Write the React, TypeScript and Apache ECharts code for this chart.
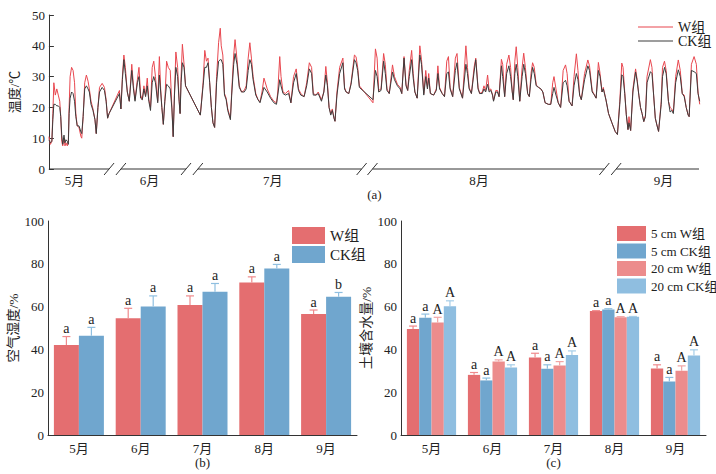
import { useEffect, useRef } from 'react';
import * as echarts from 'echarts';

// [time step, W组 temperature, CK组 temperature]
type TempPoint = [number, number, number];

const tempMay: TempPoint[] = [
  [0, 10.5, 9.5], [1.5, 8, 8.5], [3, 9, 9], [4, 18, 16], [5, 28, 21], [6.5, 24, 21], [8, 26, 20.5],
  [9.5, 24, 20.5], [11, 22, 20], [12, 17, 17], [13, 9, 11], [14, 7.5, 8], [15.3, 10, 11], [16.3, 7.5, 8.5],
  [17.3, 8.5, 9.5], [18.7, 7.5, 9], [19.7, 9, 8], [20.5, 20, 18], [21.5, 30, 23], [23, 33, 25],
  [24.5, 32, 24.5], [26, 28, 22], [27.3, 18, 17], [28.7, 14, 14], [30.5, 13.5, 14], [31.5, 12, 13],
  [32.5, 10.5, 12], [33.3, 10, 11.5], [34.7, 17, 17], [36.3, 28, 26], [38, 30.5, 27], [39.7, 28.5, 26],
  [41, 26, 25], [42.7, 22, 21], [44.7, 19.5, 19], [46.7, 16, 16], [48, 11.5, 11.5], [49.7, 20, 20],
  [51.3, 26.5, 25], [54, 27.8, 26.5], [56.3, 26.5, 25.5], [58, 22.5, 22], [59.5, 16.5, 16.5], [61, 18, 18],
];

const tempJun: TempPoint[] = [
  [71.5, 25.5, 24.5], [73, 19.5, 19.5], [74.5, 30, 29], [76, 37, 35.5], [77.5, 33, 31], [79.5, 25, 25],
  [81.5, 22, 22], [84, 34, 32], [85.7, 27, 26], [87.3, 22.5, 22], [89.7, 29, 28], [91.3, 33, 30],
  [93, 24, 23], [94.7, 22.5, 22.5], [96.3, 27, 26], [98, 24, 23.5], [99.7, 29.5, 27], [101.3, 22.5, 22],
  [103, 20, 19], [104.7, 33, 28], [106.3, 35, 30], [108, 30, 28], [110.3, 22, 21.5], [112, 36.5, 30.5],
  [113.3, 26, 25], [114.5, 20, 20], [116, 14.5, 14.5], [117.5, 22, 22], [119.3, 35, 27.5], [121, 33, 27],
  [123, 32, 26], [124.7, 20, 19.5], [126, 10.5, 10.5], [127.3, 25, 24], [128.7, 38, 33], [130.5, 33, 30],
  [132, 22.5, 22], [133, 18, 18], [134, 30, 28], [135.3, 40.5, 34.5], [137, 34, 33], [138.5, 27, 27],
];

const tempJul: TempPoint[] = [
  [153.5, 17.5, 17.5], [156.3, 28, 27], [158, 38.5, 33], [159.7, 35, 33], [161.3, 36, 34.5], [163, 28, 28],
  [164.7, 20, 20], [166.3, 15, 15], [168, 13.5, 13.5], [170, 30, 28], [172, 41, 35], [173.7, 45.7, 35.5],
  [174.7, 40, 35.5], [176.3, 37, 34], [178, 24.5, 24], [179.7, 23, 22.5], [181.3, 19.5, 19], [184, 16.5, 16],
  [185.3, 25, 24], [187.3, 37, 34], [188.7, 42, 37.5], [190.7, 35.5, 34], [193, 27, 26.5], [195.3, 25, 25],
  [198, 25.5, 25], [200, 27, 26], [202, 36, 32], [203.7, 41, 35.5], [205.3, 36, 34], [207, 30, 29],
  [209.7, 24.5, 24], [212, 22.5, 22.5], [214, 21.8, 21.5], [216, 25, 24], [218, 29.5, 26.5], [221.3, 26, 25],
  [224.7, 23.5, 23], [228, 22, 21.5], [230.7, 21.5, 21], [232, 25, 24], [234, 36.5, 29], [235.3, 30, 27],
  [237.3, 25, 24.5], [239.7, 24.5, 24], [243, 25.5, 24.5], [245.3, 21.5, 21.5], [248, 30, 28], [250.7, 32.5, 31],
  [253, 26, 25.5], [255.3, 24.5, 24], [258.7, 23.5, 23.5], [261.3, 28, 27], [264, 34.5, 32.5], [266.3, 33, 31],
  [268, 24.5, 24], [270.7, 24, 24], [273, 25, 24.5], [276.3, 22.5, 22], [278.7, 25, 25], [280.7, 33.3, 30.5],
  [282.3, 28, 27], [284, 20, 20], [285.7, 18, 17.5], [287.3, 19.5, 19], [289, 16.5, 16.5], [290, 15.5, 15.5],
  [292, 25, 24], [294.7, 33, 31], [298, 36, 34.5], [299.7, 26.5, 26], [301.3, 25, 25], [304, 24.5, 24.5],
  [306.3, 28, 27.5], [309.7, 37, 35.5], [311.3, 36.5, 34.5], [313, 33, 32], [314.7, 27, 26.5],
];

const tempAug: TempPoint[] = [
  [328.5, 21.5, 22.5], [331, 39, 32], [332.7, 36, 30], [334.3, 25.5, 25], [336.7, 26, 25.5], [339.3, 37.5, 35],
  [341, 34, 31], [342.7, 26, 25.5], [345, 24.5, 24.5], [348.3, 33.8, 31.5], [350.3, 30, 29], [353.3, 27.5, 27],
  [356, 26.5, 26], [357.7, 24.5, 24.5], [360, 36.5, 36], [362, 27.5, 27], [363.7, 25.5, 25.5], [365.3, 32, 30],
  [367.7, 38.5, 35.5], [369.3, 31, 29.5], [371, 25, 25], [373.3, 23, 23], [376, 40, 37], [377.7, 35.5, 34],
  [380, 24.5, 24], [382, 32, 30], [383.7, 26.5, 26], [385, 31, 29.5], [386.7, 24.5, 24.5], [390, 24, 24],
  [392.7, 26, 25.5], [394.3, 33.5, 31], [396, 26.5, 26], [398.7, 24.5, 24.5], [401, 23.5, 23.5], [403.3, 35, 31],
  [405, 36.5, 31.5], [406.7, 26.5, 26], [409.3, 23.5, 23.5], [412, 36, 32], [413.7, 37.5, 34.5], [416, 26.5, 26],
  [419.3, 23, 23], [422.7, 40, 34], [424.3, 33, 31], [426, 26.5, 26], [428.3, 24.5, 24.5], [431, 33, 31.5],
  [432.7, 36, 35.5], [435, 26.5, 26], [436.7, 24.5, 24.5], [439.3, 25, 24.5], [441, 27, 26], [442.7, 25.5, 25],
  [444.7, 30.5, 27.5], [446.3, 25.5, 25], [448, 26, 25.5], [449.7, 24, 24], [450.7, 22.2, 22], [453, 25.5, 25],
  [454.7, 25.5, 25], [456.3, 23.5, 23.5], [458.7, 35.6, 33.5], [460, 34, 30], [462, 23.5, 23.5], [464, 34, 31],
  [466.3, 37, 33.5], [468, 33, 30], [469.7, 25, 25], [470.7, 22.5, 22.5], [472.3, 35, 31], [473.7, 39.7, 34],
  [475.3, 33, 30], [477.3, 22, 22], [479.7, 33, 30], [481.3, 37.6, 34], [483, 33, 31], [485.3, 24.5, 24.5],
  [487, 23.5, 23.5], [488.7, 31, 29], [490.3, 34.5, 33], [492, 33, 31], [494, 27.3, 27], [496.3, 26.5, 26.5],
  [498.7, 26, 26], [500.7, 25, 25], [503, 21.5, 21.5], [506.3, 21, 21], [508.7, 21, 21], [510.7, 28, 24.5],
  [512, 30, 26.5], [514, 26, 24], [516.3, 21.5, 21.5], [518.7, 20, 20], [521.3, 32, 28], [523.7, 33.8, 28.8],
  [525.3, 31, 27], [527.3, 22, 22], [530.3, 20.5, 20.5], [532.3, 30, 27], [534.7, 37.4, 31], [536.3, 32, 29],
  [538, 24, 24], [539.7, 22.5, 22.5], [543, 31, 29], [546.3, 35.4, 33.5], [548, 33.5, 32], [550.7, 25.5, 25],
  [553, 24, 24], [554.7, 23, 23], [557, 34.6, 32], [558.7, 31, 30], [560.7, 25, 25], [562, 26.5, 26],
];

const tempSep: TempPoint[] = [
  [564.7, 22.4, 22.4], [567.3, 18, 18], [570.7, 15, 15], [574, 12.2, 12.2], [576.3, 11.2, 11.2], [578.7, 22, 21],
  [580.7, 34.4, 30.6], [582, 33, 30], [583.7, 25, 24.5], [585.3, 17.6, 17.6], [587, 12.8, 12.8], [588, 17, 15],
  [589.7, 12.5, 12.5], [592, 26, 25], [594.7, 32.5, 31.5], [596.3, 29, 28.5], [598, 24, 24], [599.7, 20, 20],
  [601.3, 18, 18], [603, 15.4, 15.4], [604.7, 17.5, 17], [606.3, 30, 28], [609.7, 35.5, 31.6], [611.3, 33, 31],
  [613, 24, 24], [614.7, 16.5, 16.5], [616.3, 14.3, 14.3], [618, 12.2, 12.2], [620.7, 22, 21], [622, 33, 30],
  [624, 35, 33], [625.7, 32, 31], [628, 22, 22], [629.7, 20, 18.5], [631.3, 19.5, 19], [633, 18.5, 18],
  [635.3, 30, 28], [638, 35.4, 32.2], [640, 32, 30], [642, 24.5, 24.5], [644, 24, 23.5], [646, 20, 20],
  [648, 17.5, 17.5], [649, 17, 17], [651.3, 34, 32], [654, 36.5, 31.6], [656.3, 34, 31], [658, 25, 24.5],
  [659.7, 21, 22],
];

// broken time axis of panel (a)
const months = ['5月', '6月', '7月', '8月', '9月'];
const segStart = [0, 73, 151, 328, 575];
const segEnd = [61, 139, 317, 563, 659];
const monthLabelAt = [26, 102, 227, 436, 623];

// panel (b): air humidity
const humidW = [42.1, 54.5, 60.7, 71.3, 56.5];
const humidWTop = [46, 59.2, 65, 73.9, 58.4];
const humidCK = [46.4, 60, 66.9, 77.8, 64.6];
const humidCKTop = [50.3, 65, 70.8, 79.7, 66.6];
const humidWSig = ['a', 'a', 'a', 'a', 'a'];
const humidCKSig = ['a', 'a', 'a', 'a', 'b'];

// panel (c): soil water content
const soil5W = [49.5, 28.1, 36.2, 57.9, 31.1];
const soil5WTop = [50.9, 29.2, 38.2, 58.1, 32.8];
const soil5CK = [54.8, 25.5, 30.9, 58.7, 25];
const soil5CKTop = [56.5, 26.6, 32.8, 59, 26.9];
const soil20W = [52.6, 34.3, 32.5, 55, 30];
const soil20WTop = [55, 35.1, 34.3, 55.3, 32.3];
const soil20CK = [60.2, 31.5, 37.4, 55.3, 37.1];
const soil20CKTop = [62.7, 32.8, 39.3, 55.4, 39.8];
const soil5Sig = ['a', 'a', 'a', 'a', 'a'];
const soil20Sig = ['A', 'A', 'A', 'A', 'A'];

const FONT = "'Liberation Serif', 'Noto Sans CJK SC', serif";
const INK = '#333';

const legendNames: Record<string, string> = {
  aW: 'W组',
  aCK: 'CK组',
  bW: 'W组',
  bCK: 'CK组',
  c5W: '5 cm W组',
  c5CK: '5 cm CK组',
  c20W: '20 cm W组',
  c20CK: '20 cm CK组',
};

function errorBars(vals: number[], tops: number[], sig: string[], offset: number, color: string, grid: number) {
  return {
    type: 'custom',
    xAxisIndex: grid,
    yAxisIndex: grid,
    silent: true,
    z: 5,
    clip: false,
    data: vals.map((v, i) => [i, v, tops[i]]),
    renderItem: (params: any, api: any) => {
      const base = api.coord([api.value(0), api.value(1)]);
      const top = api.coord([api.value(0), api.value(2)]);
      const x = base[0] + offset;
      const style = { stroke: color, lineWidth: 1.2 };
      return {
        type: 'group',
        children: [
          { type: 'line', shape: { x1: x, y1: base[1], x2: x, y2: top[1] }, style },
          { type: 'line', shape: { x1: x - 4, y1: top[1], x2: x + 4, y2: top[1] }, style },
          {
            type: 'text',
            x,
            y: top[1] - 1,
            style: {
              text: sig[params.dataIndex],
              fill: '#222',
              fontSize: 14,
              fontFamily: FONT,
              align: 'center',
              verticalAlign: 'bottom',
              textAlign: 'center',
              textVerticalAlign: 'bottom',
            },
          },
        ],
      };
    },
  };
}

function barAxes(grid: number, yName: string, nameGap: number) {
  return {
    x: {
      type: 'category',
      gridIndex: grid,
      data: months,
      axisLine: { lineStyle: { color: INK } },
      axisTick: { show: false },
      axisLabel: { color: '#222', fontSize: 13, fontFamily: FONT, margin: 7 },
    },
    y: {
      type: 'value',
      gridIndex: grid,
      min: 0,
      max: 100,
      interval: 20,
      name: yName,
      nameLocation: 'middle',
      nameGap,
      nameRotate: 90,
      nameTextStyle: { color: '#222', fontSize: 13.5, fontFamily: FONT },
      axisLine: { show: true, lineStyle: { color: INK } },
      axisTick: { inside: true, length: 5, lineStyle: { color: INK } },
      splitLine: { show: false },
      axisLabel: { color: '#222', fontSize: 13, fontFamily: FONT, margin: 4 },
    },
  };
}

export default function App() {
  const chartRef = useRef<HTMLDivElement>(null);

  useEffect(() => {
    if (!chartRef.current) return;
    const chart = echarts.init(chartRef.current, null, { renderer: 'svg' });

    const allTemp = [...tempMay, ...tempJun, ...tempJul, ...tempAug, ...tempSep];
    const b = barAxes(1, '空气湿度/%', 23);
    const c = barAxes(2, '土壤含水量/%', 23);

    const legendText = {
      color: '#222',
      fontSize: 13,
      fontFamily: FONT,
    };

    const option: any = {
      animation: false,
      backgroundColor: '#fff',
      grid: [
        { left: 40, right: 16, top: 15, height: 154 },
        { left: 48, width: 309, top: 221, height: 214 },
        { left: 401, width: 305, top: 221, height: 214 },
      ],
      legend: [
        {
          data: ['aW', 'aCK'],
          orient: 'vertical',
          icon: 'rect',
          left: 633,
          top: 15,
          itemWidth: 35,
          itemHeight: 1.2,
          itemGap: 0,
          formatter: (n: string) => legendNames[n],
          textStyle: { ...legendText, fontSize: 14 },
        },
        {
          data: ['bW', 'bCK'],
          orient: 'vertical',
          icon: 'rect',
          left: 287,
          top: 222,
          itemWidth: 33,
          itemHeight: 17,
          itemGap: 2,
          formatter: (n: string) => legendNames[n],
          textStyle: { ...legendText, fontSize: 15 },
        },
        {
          data: ['c5W', 'c5CK', 'c20W', 'c20CK'],
          orient: 'vertical',
          icon: 'rect',
          left: 612,
          top: 221,
          itemWidth: 29,
          itemHeight: 15,
          itemGap: 2.5,
          formatter: (n: string) => legendNames[n],
          textStyle: legendText,
        },
      ],
      xAxis: [
        {
          type: 'value',
          gridIndex: 0,
          min: 0,
          max: 660,
          axisLine: { show: false },
          axisTick: { show: false },
          axisLabel: { show: false },
          splitLine: { show: false },
        },
        b.x,
        c.x,
      ],
      yAxis: [
        {
          type: 'value',
          gridIndex: 0,
          min: 0,
          max: 50,
          interval: 10,
          name: '温度/℃',
          nameLocation: 'middle',
          nameGap: 23,
          nameRotate: 90,
          nameTextStyle: { color: '#222', fontSize: 13, fontFamily: FONT },
          axisLine: { show: true, lineStyle: { color: INK } },
          axisTick: { inside: true, length: 5, lineStyle: { color: INK } },
          splitLine: { show: false },
          axisLabel: { color: '#222', fontSize: 13, fontFamily: FONT, margin: 4 },
        },
        b.y,
        c.y,
      ],
      series: [
        {
          name: 'aW',
          type: 'line',
          xAxisIndex: 0,
          yAxisIndex: 0,
          symbol: 'none',
          color: '#e8474f',
          lineStyle: { width: 1 },
          data: allTemp.map((p) => [p[0], p[1]]),
        },
        {
          name: 'aCK',
          type: 'line',
          xAxisIndex: 0,
          yAxisIndex: 0,
          symbol: 'none',
          color: '#3d3d3d',
          lineStyle: { width: 1 },
          data: allTemp.map((p) => [p[0], p[2]]),
        },
        { name: 'bW', type: 'bar', xAxisIndex: 1, yAxisIndex: 1, barWidth: 25, barGap: '0%', color: '#e46e70', data: humidW },
        { name: 'bCK', type: 'bar', xAxisIndex: 1, yAxisIndex: 1, barWidth: 25, barGap: '0%', color: '#70a6ce', data: humidCK },
        errorBars(humidW, humidWTop, humidWSig, -12.5, '#ef8a8c', 1),
        errorBars(humidCK, humidCKTop, humidCKSig, 12.5, '#8fbfe0', 1),
        { name: 'c5W', type: 'bar', xAxisIndex: 2, yAxisIndex: 2, barWidth: 12.3, barGap: '0%', color: '#e46e70', data: soil5W },
        { name: 'c5CK', type: 'bar', xAxisIndex: 2, yAxisIndex: 2, barWidth: 12.3, barGap: '0%', color: '#70a6ce', data: soil5CK },
        { name: 'c20W', type: 'bar', xAxisIndex: 2, yAxisIndex: 2, barWidth: 12.3, barGap: '0%', color: '#ec8c8c', data: soil20W },
        { name: 'c20CK', type: 'bar', xAxisIndex: 2, yAxisIndex: 2, barWidth: 12.3, barGap: '0%', color: '#8fbee0', data: soil20CK },
        errorBars(soil5W, soil5WTop, soil5Sig, -18.45, '#ef8a8c', 2),
        errorBars(soil5CK, soil5CKTop, soil5Sig, -6.15, '#8fbfe0', 2),
        errorBars(soil20W, soil20WTop, soil20Sig, 6.15, '#f2a5a5', 2),
        errorBars(soil20CK, soil20CKTop, soil20Sig, 18.45, '#a5cde8', 2),
      ],
    };

    chart.setOption(option);

    // broken x axis with month labels for panel (a)
    const px = (t: number) => chart.convertToPixel({ gridIndex: 0 }, [t, 0])[0];
    const axisY = chart.convertToPixel({ gridIndex: 0 }, [0, 0])[1];
    const stroke = { stroke: INK, lineWidth: 1 };
    const textStyle = (text: string) => ({
      text,
      fill: '#222',
      fontSize: 13,
      fontFamily: FONT,
      textAlign: 'center',
      textVerticalAlign: 'top',
      align: 'center',
      verticalAlign: 'top',
    });
    const elements: any[] = [];
    months.forEach((m, i) => {
      elements.push({ type: 'line', shape: { x1: px(segStart[i]), y1: axisY, x2: px(segEnd[i]), y2: axisY }, style: stroke });
      elements.push({ type: 'text', x: px(monthLabelAt[i]), y: axisY + 5, style: textStyle(m) });
      if (i < months.length - 1) {
        [segEnd[i], segStart[i + 1]].forEach((t) => {
          const x = px(t);
          elements.push({ type: 'line', shape: { x1: x - 5, y1: axisY + 6, x2: x + 5, y2: axisY - 6 }, style: stroke });
        });
      }
    });
    elements.push({ type: 'text', x: px(330), y: axisY + 19, style: textStyle('(a)') });
    const bMid = chart.convertToPixel({ gridIndex: 1 }, [2, 0]);
    const cMid = chart.convertToPixel({ gridIndex: 2 }, [2, 0]);
    elements.push({ type: 'text', x: bMid[0], y: bMid[1] + 21, style: textStyle('(b)') });
    elements.push({ type: 'text', x: cMid[0], y: cMid[1] + 21, style: textStyle('(c)') });

    chart.setOption({ graphic: { elements } });

    return () => {
      chart.dispose();
    };
  }, []);

  return (
    <div
      ref={chartRef}
      style={{ position: 'absolute', left: 0, top: 0, width: '716px', height: '474px', background: '#fff' }}
    />
  );
}
